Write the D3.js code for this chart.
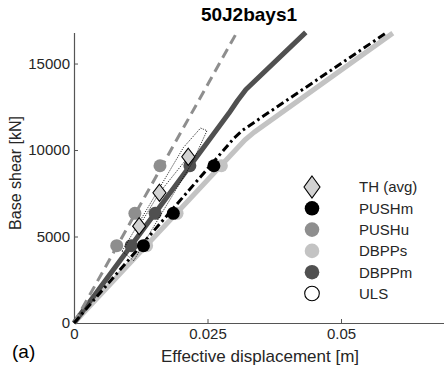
<!DOCTYPE html>
<html>
<head>
<meta charset="utf-8">
<script src="https://cdn.jsdelivr.net/npm/d3@7"></script>
<style>
  html, body { margin: 0; padding: 0; background: #fff; }
  svg { display: block; font-family: "Liberation Sans", Arial, Helvetica, sans-serif; }
</style>
</head>
<body>
<svg id="chart" width="444" height="372"></svg>
<script>
// Capacity curves: [displacement (m), base shear (kN)]
const pushmCurve = [[0, 0], [0.0300, 10700], [0.0316, 11150], [0.0584, 16760]];
const pushuCurve = [[0, 0], [0.0305, 16800]];
const dbppsCurve = [[0, 0], [0.0320, 10580], [0.0337, 11020], [0.0597, 16760]];
const dbppmCurve = [[0, 0], [0.0290, 12120], [0.0306, 12850], [0.0322, 13500], [0.0434, 16800]];

// Performance points at the three intensity levels
const levelShear = [4470, 6340, 9090];
const pushmDisp = [0.0130, 0.0186, 0.0262];
const pushuDisp = [0.0080, 0.0114, 0.0161];
const dbppsDisp = [0.0136, 0.0193, 0.0276];
const dbppmDisp = [0.0107, 0.0152, 0.0217];

// Time-history averages and their dotted envelope
const thDisp = [0.0122, 0.0160, 0.0214];
const thShear = [5600, 7530, 9610];
const thEnvelope = [[0.0090, 4150], [0.0205, 10150], [0.0237, 11270], [0.0249, 11120],
                    [0.0222, 9300], [0.0140, 5100], [0.0112, 3600]];

const xTicks = [0, 0.025, 0.05];
const yTicks = [0, 5000, 10000, 15000];
const legendLabels = ["TH (avg)", "PUSHm", "PUSHu", "DBPPs", "DBPPm", "ULS"];

const colors = {
  pushm: "#000000",
  pushu: "#8e8e8e",
  dbpps: "#c3c3c3",
  dbppm: "#505050",
  axis: "#555555",
  text: "#262626"
};

const svg = d3.select("#chart");
const x = d3.scaleLinear().domain([0, 0.07]).range([74, 447.8]);
const y = d3.scaleLinear().domain([0, 16800]).range([323, 32.4]);

const line = d3.line().x(d => x(d[0])).y(d => y(d[1]));

// Axes (ticks point inward)
const xAxis = d3.axisBottom(x).tickValues(xTicks).tickSizeInner(-4).tickSizeOuter(0)
  .tickPadding(8).tickFormat(d => d === 0 ? "0" : String(d));
const yAxis = d3.axisLeft(y).tickValues(yTicks).tickSizeInner(-4).tickSizeOuter(0)
  .tickPadding(8).tickFormat(d3.format("d"));

const gx = svg.append("g").attr("transform", `translate(0,${y(0)})`).call(xAxis);
const gy = svg.append("g").attr("transform", `translate(${x(0)},0)`).call(yAxis);
[gx, gy].forEach(g => {
  g.select(".domain").attr("stroke", colors.axis).attr("stroke-width", 1.2);
  g.selectAll(".tick line").attr("stroke", colors.axis);
  g.selectAll(".tick text").attr("fill", colors.text).attr("font-size", 15)
    .attr("font-family", "Liberation Sans, Arial, sans-serif");
});
gy.selectAll(".tick text").attr("dx", 4);
gx.selectAll(".tick text").attr("dy", "0.55em");

// Curves
const plot = svg.append("g");
plot.append("path").datum(dbppsCurve).attr("d", line)
  .attr("fill", "none").attr("stroke", colors.dbpps).attr("stroke-width", 5)
  .attr("stroke-linejoin", "round");
plot.append("path").datum(dbppmCurve).attr("d", line)
  .attr("fill", "none").attr("stroke", colors.dbppm).attr("stroke-width", 5)
  .attr("stroke-linejoin", "round");
plot.append("path").datum(pushuCurve).attr("d", line)
  .attr("fill", "none").attr("stroke", colors.pushu).attr("stroke-width", 3)
  .attr("stroke-dasharray", "10,6");
plot.append("path").datum(pushmCurve).attr("d", line)
  .attr("fill", "none").attr("stroke", colors.pushm).attr("stroke-width", 3)
  .attr("stroke-dasharray", "8,3.5,2.5,3.5");

// Performance points
function pointSet(disp, color) {
  plot.append("g").selectAll("circle").data(disp).join("circle")
    .attr("cx", d => x(d)).attr("cy", (d, i) => y(levelShear[i]))
    .attr("r", 6.5).attr("fill", color);
}
pointSet(dbppsDisp, colors.dbpps);
pointSet(dbppmDisp, colors.dbppm);
pointSet(pushuDisp, colors.pushu);
pointSet(pushmDisp, colors.pushm);

// Time-history envelope and averages
plot.append("path").datum(thEnvelope)
  .attr("d", d => line(d) + "Z")
  .attr("fill", "none").attr("stroke", "#000").attr("stroke-width", 0.8)
  .attr("stroke-dasharray", "1.2,1.2");
plot.append("path").datum(thDisp.map((d, i) => [d, thShear[i]]))
  .attr("d", line)
  .attr("fill", "none").attr("stroke", "#000").attr("stroke-width", 0.8)
  .attr("stroke-dasharray", "1.2,1.2");

const diamond = (cx, cy, hw, hh) =>
  `M${cx},${cy - hh}L${cx + hw},${cy}L${cx},${cy + hh}L${cx - hw},${cy}Z`;
plot.append("g").selectAll("path").data(thDisp).join("path")
  .attr("d", (d, i) => diamond(x(d), y(thShear[i]), 6.5, 8.5))
  .attr("fill", "#d2d2d2").attr("stroke", "#000").attr("stroke-width", 1.1);

// Legend
const legend = svg.append("g");
const legendX = 312, legendY0 = 187, legendStep = 21.3;
const legendFill = [null, colors.pushm, colors.pushu, colors.dbpps, colors.dbppm, "#fff"];
legendLabels.forEach((lab, i) => {
  const cy = legendY0 + i * legendStep;
  if (i === 0) {
    legend.append("path").attr("d", diamond(legendX, cy, 8, 11))
      .attr("fill", "#d2d2d2").attr("stroke", "#000").attr("stroke-width", 1.1);
  } else {
    legend.append("circle").attr("cx", legendX).attr("cy", cy).attr("r", 7.3)
      .attr("fill", legendFill[i])
      .attr("stroke", i === 5 ? "#000" : "none").attr("stroke-width", 1.1);
  }
  legend.append("text").attr("x", 359).attr("y", cy).attr("dy", "0.36em")
    .attr("font-size", 15).attr("fill", colors.text).text(lab);
});

// Titles and labels
svg.append("text").attr("x", 249).attr("y", 21).attr("text-anchor", "middle")
  .attr("font-size", 19).attr("font-weight", "bold").attr("fill", "#000").text("50J2bays1");
svg.append("text").attr("x", 260).attr("y", 362).attr("text-anchor", "middle")
  .attr("font-size", 17).attr("fill", colors.text).text("Effective displacement [m]");
svg.append("text").attr("transform", "translate(21,173) rotate(-90)").attr("text-anchor", "middle")
  .attr("font-size", 16).attr("fill", colors.text).text("Base shear [kN]");
svg.append("text").attr("x", 12).attr("y", 358)
  .attr("font-size", 19).attr("fill", "#000").text("(a)");
</script>
</body>
</html>
